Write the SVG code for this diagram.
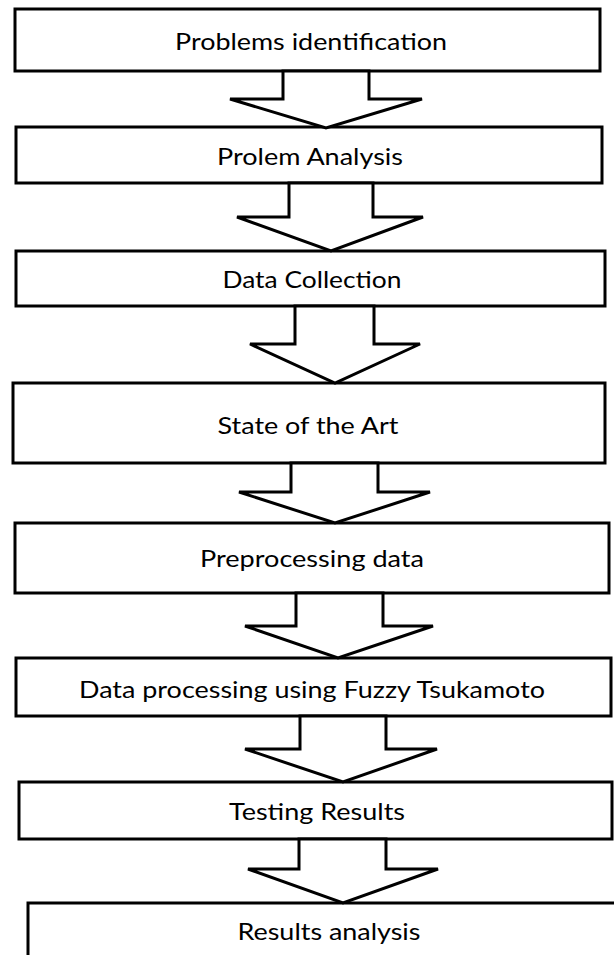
<svg xmlns="http://www.w3.org/2000/svg" width="614" height="955" viewBox="0 0 614 955">
  <style>
    .box { fill: #ffffff; stroke: #000000; stroke-width: 3; }
    .flow { fill: #ffffff; stroke: #000000; stroke-width: 3; stroke-linejoin: miter; }
    .label { font-family: Lato, "Open Sans", "Liberation Sans", sans-serif; font-size: 23px; fill: #000000; text-anchor: middle; }
  </style>
  <rect width="614" height="955" fill="#ffffff"/>

  <g id="nodes">
    <g id="n1">
      <rect class="box" x="15" y="9" width="585" height="62"/>
      <text class="label" x="311" y="50" textLength="272" lengthAdjust="spacingAndGlyphs">Problems identification</text>
    </g>
    <g id="n2">
      <rect class="box" x="16" y="127" width="586" height="56"/>
      <text class="label" x="310" y="165" textLength="186" lengthAdjust="spacingAndGlyphs">Prolem Analysis</text>
    </g>
    <g id="n3">
      <rect class="box" x="16" y="251" width="589" height="55"/>
      <text class="label" x="312" y="288" textLength="179" lengthAdjust="spacingAndGlyphs">Data Collection</text>
    </g>
    <g id="n4">
      <rect class="box" x="13" y="383" width="592" height="80"/>
      <text class="label" x="308" y="434" textLength="181" lengthAdjust="spacingAndGlyphs">State of the Art</text>
    </g>
    <g id="n5">
      <rect class="box" x="15" y="523" width="594" height="70"/>
      <text class="label" x="312" y="567" textLength="224" lengthAdjust="spacingAndGlyphs">Preprocessing data</text>
    </g>
    <g id="n6">
      <rect class="box" x="16" y="658" width="595" height="58"/>
      <text class="label" x="312" y="698" textLength="466" lengthAdjust="spacingAndGlyphs">Data processing using Fuzzy Tsukamoto</text>
    </g>
    <g id="n7">
      <rect class="box" x="19" y="782" width="593" height="57"/>
      <text class="label" x="317" y="820" textLength="176" lengthAdjust="spacingAndGlyphs">Testing Results</text>
    </g>
    <g id="n8">
      <rect class="box" x="28" y="903" width="600" height="70"/>
      <text class="label" x="329" y="940" textLength="183" lengthAdjust="spacingAndGlyphs">Results analysis</text>
    </g>
  </g>

  <!-- block arrows between consecutive steps -->
  <g id="connectors">
    <polygon class="flow" points="283,71 369,71 369,99 422,99 326,128 230,99 283,99"/>
    <polygon class="flow" points="289,183 373,183 373,217 423,217 331,251 237,217 289,217"/>
    <polygon class="flow" points="295,306 374,306 374,344 420,344 335,383 250,344 295,344"/>
    <polygon class="flow" points="291,463 378,463 378,492 430,492 335,523 239,492 291,492"/>
    <polygon class="flow" points="296,593 383,593 383,626 433,626 338,658 245,626 296,626"/>
    <polygon class="flow" points="300,716 386,716 386,749 437,749 343,782 245,749 300,749"/>
    <polygon class="flow" points="299,839 386,839 386,869 438,869 343,903 248,869 299,869"/>
  </g>
</svg>
